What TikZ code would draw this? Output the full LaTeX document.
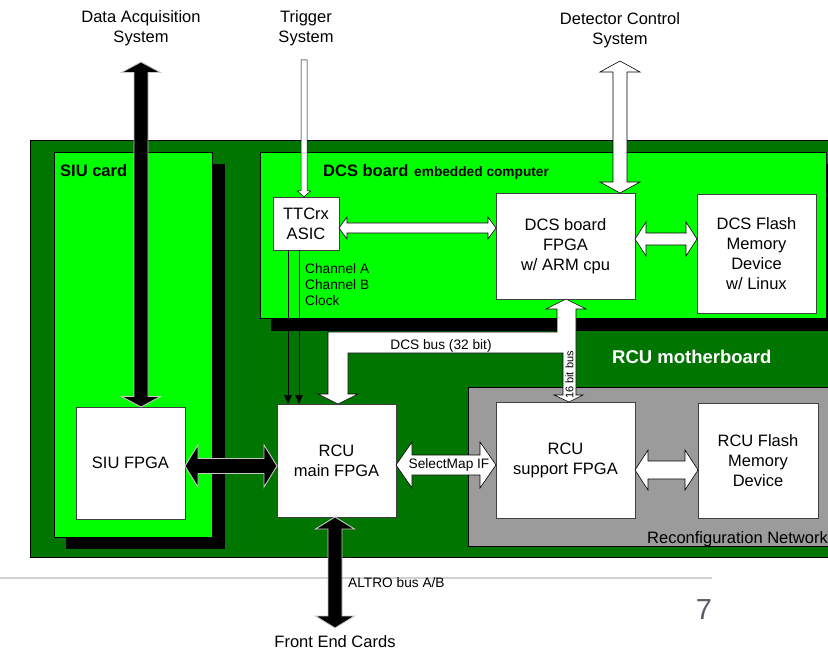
\documentclass[tikz,border=0pt]{standalone}
\usepackage{fontspec}
\setmainfont{Liberation Sans}
\usetikzlibrary{calc,arrows.meta}
\definecolor{dkgreen}{RGB}{0,118,0}
\definecolor{ltgreen}{RGB}{0,255,0}
\definecolor{rngray}{RGB}{155,155,155}
\definecolor{pgnum}{RGB}{95,90,110}
\newcommand\fsA{\fontsize{16.5}{20}\selectfont}
\newcommand\fsB{\fontsize{13.7}{16}\selectfont}
\newcommand\fsC{\fontsize{11}{13}\selectfont}
% horizontal double block arrow: style, (left), (right), shaft half, head half, head length
\newcommand\HArr[6]{%
  \path[#1] let \p1=#2, \p2=#3 in
    (\x1,\y1) -- (\x1+#6pt,\y1+#5pt) -- (\x1+#6pt,\y1+#4pt) -- (\x2-#6pt,\y1+#4pt)
    -- (\x2-#6pt,\y1+#5pt) -- (\x2,\y1) -- (\x2-#6pt,\y1-#5pt) -- (\x2-#6pt,\y1-#4pt)
    -- (\x1+#6pt,\y1-#4pt) -- (\x1+#6pt,\y1-#5pt) -- cycle;}
% vertical double block arrow: style, (top), (bottom), shaft half, head half, head length
\newcommand\VArr[6]{%
  \path[#1] let \p1=#2, \p2=#3 in
    (\x1,\y1) -- (\x1+#5pt,\y1-#6pt) -- (\x1+#4pt,\y1-#6pt) -- (\x1+#4pt,\y2+#6pt)
    -- (\x1+#5pt,\y2+#6pt) -- (\x1,\y2) -- (\x1-#5pt,\y2+#6pt) -- (\x1-#4pt,\y2+#6pt)
    -- (\x1-#4pt,\y1-#6pt) -- (\x1-#5pt,\y1-#6pt) -- cycle;}
\tikzset{
  box/.style={draw=black!75, fill=white, line width=0.6pt, align=center, font=\fsA,
    inner sep=0pt, outer sep=0pt, anchor=north west},
  blk/.style={fill=black, draw=black!22, line width=0.9pt},
  wht/.style={fill=white, draw=black, line width=0.6pt},
  lbl/.style={align=center, font=\fsA, inner sep=0pt},
  small/.style={font=\fsB, inner sep=0pt},
  chan/.style={draw=black, line width=0.7pt, -{Triangle[length=9pt,width=7.5pt]}},
  card/.style={fill=ltgreen, draw=black, line width=0.6pt},
}
\begin{document}
\begin{tikzpicture}[x=1pt,y=-1pt]
\useasboundingbox (0,0) rectangle (828,650);
\clip (0,0) rectangle (828,650);
\fill[white] (0,0) rectangle (828,650);
% RCU motherboard
\draw[fill=dkgreen, draw=black, line width=0.6pt] (30,140) rectangle (845,557);
% SIU card with shadow
\fill[black] (66,164) rectangle (225,549);
\draw[card] (54,152) rectangle (212,537);
% DCS board with shadow
\fill[black] (271,164) rectangle (845,331);
\draw[card] (260,152) rectangle (826,318);
% Reconfiguration network
\draw[fill=rngray, draw=black, line width=0.6pt] (468,387) rectangle (845,546);
% container labels
\node[inner sep=0pt, anchor=base west, font=\fsA\bfseries] (siucard) at (60,177) {SIU card};
\node[inner sep=0pt, anchor=base west, font=\fsA\bfseries] (dcsboard) at (323,177) {DCS board};
\node[inner sep=0pt, anchor=base west, font=\fsB\bfseries] (embed) at (414,177) {embedded computer};
\node[inner sep=0pt, anchor=base west, font=\fontsize{18.5}{22}\selectfont\bfseries, text=white] (rcumb) at (612,363) {RCU motherboard};
\node[inner sep=0pt, anchor=base west, font=\fsA] (reconf) at (647,543) {Reconfiguration Network};
% page rule
\draw[black!18, line width=1.5pt] (0,578) -- (712,578);
% boxes
\node[box, minimum width=66pt, minimum height=53pt] (ttc) at (273,197) {TTCrx\\ASIC};
\node[box, minimum width=139pt, minimum height=106pt] (dcsf) at (496,193) {DCS board\\FPGA\\w/ ARM cpu};
\node[box, minimum width=119pt, minimum height=119pt] (dcsfl) at (697,194) {DCS Flash\\Memory\\Device\\w/ Linux};
\node[box, minimum width=109pt, minimum height=112pt] (siuf) at (76,407) {SIU FPGA};
\node[box, minimum width=119pt, minimum height=113pt] (rcum) at (277,404) {RCU\\main FPGA};
\node[box, minimum width=139pt, minimum height=116pt] (rcus) at (496,402) {RCU\\support FPGA};
\node[box, minimum width=120pt, minimum height=115pt] (rcufl) at (698,403) {RCU Flash\\Memory\\Device};
% outside labels
\node[lbl, anchor=north] (daq) at (141,10.5) {Data Acquisition\\System};
\node[lbl, anchor=north] (trg) at (306,10.5) {Trigger\\System};
\node[lbl, anchor=north] (dcsys) at (620,12.5) {Detector Control\\System};
\node[lbl, anchor=base] (fecl) at (335,647) {Front End Cards};
% helper coordinates
\coordinate (daqtop) at (141,62);
\coordinate (dcstop) at (620,61);
\coordinate (trgtop) at (304,60);
\coordinate (fec) at (335,628);
\coordinate (chA) at (288,0);
\coordinate (chB) at (299,0);
\coordinate (ylvA) at (0,228);
\coordinate (ylvB) at (0,239);
\coordinate (ylvC) at (0,466);
\coordinate (ylvD) at (0,465);
\coordinate (ylvE) at (0,470);
% channel lines
\draw[chan] (ttc.south -| chA) -- (rcum.north -| chA);
\draw[chan] (ttc.south -| chB) -- (rcum.north -| chB);
\node[small, anchor=base west] (cha) at (305,273) {Channel A};
\node[small, anchor=base west] (chb) at (305,289) {Channel B};
\node[small, anchor=base west] (clk) at (305,305) {Clock};
% trigger arrow
\path[wht, line width=0.5pt] let \p1=(trgtop), \p2=(ttc.north -| trgtop) in
  (\x1-3pt,\y1) -- (\x1-3pt,\y2+6pt) -- (\x1-6.5pt,\y2+6pt) -- (\x1,\y2)
  -- (\x1+6.5pt,\y2+6pt) -- (\x1+3pt,\y2+6pt) -- (\x1+3pt,\y1) -- cycle;
% block arrows
\VArr{blk}{(daqtop)}{(siuf.north -| daqtop)}{7}{19.5}{10.5}
\VArr{wht}{(dcstop)}{(dcsf.north -| dcstop)}{7}{20}{11}
\VArr{blk}{(rcum.south -| fec)}{(fec)}{7}{19.5}{12}
\HArr{wht}{(ttc.east |- ylvA)}{(dcsf.west |- ylvA)}{5}{11}{8}
\HArr{wht}{(dcsf.east |- ylvB)}{(dcsfl.west |- ylvB)}{6}{17}{11}
\HArr{blk}{(siuf.east |- ylvC)}{(rcum.west |- ylvC)}{7.5}{21}{13}
\HArr{wht}{(rcum.east |- ylvD)}{(rcus.west |- ylvD)}{10}{23}{16}
\HArr{wht}{(rcus.east |- ylvE)}{(rcufl.west |- ylvE)}{9}{20}{13}
% DCS bus (32 bit) and 16 bit bus
\path[wht] (566,299) -- (586,309) -- (576,309) -- (576,395) -- (583,395) -- (569,402)
  -- (554,395) -- (563,395) -- (563,353) -- (348,353) -- (348,394) -- (358,394)
  -- (338,404) -- (318,394) -- (328,394) -- (328,332) -- (557,332) -- (557,309)
  -- (546,309) -- cycle;
\node[small, anchor=base] (dcsbus) at (441,349) {DCS bus (32 bit)};
\node[font=\fsC, inner sep=0pt, rotate=90] (bus16) at (569.5,375) {16 bit bus};
\node[small] (selmap) at (449,465) {SelectMap IF};
\node[small, anchor=base west] (altro) at (348,587) {ALTRO bus A/B};
% page number
\node[inner sep=0pt, anchor=base, font=\fontsize{29}{32}\selectfont, text=pgnum] (pgn) at (704,619) {7};
\end{tikzpicture}
\end{document}
